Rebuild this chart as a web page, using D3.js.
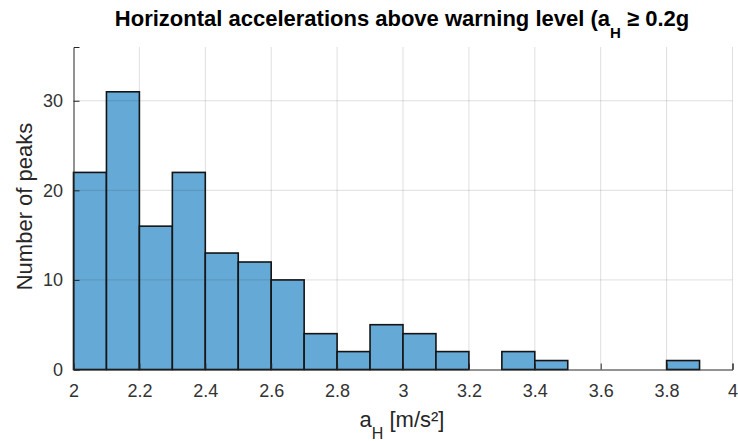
<!DOCTYPE html>
<html>
<head>
<meta charset="utf-8">
<script src="https://cdn.jsdelivr.net/npm/d3@7"></script>
<style>
  body { margin: 0; background: #fff; }
  svg { display: block; font-family: "Liberation Sans", Arial, sans-serif; }
</style>
</head>
<body>
<svg id="chart" width="738" height="441"></svg>
<script>
// histogram bins, width 0.1 m/s², starting at 2.0
const binEdges = [2.0, 2.1, 2.2, 2.3, 2.4, 2.5, 2.6, 2.7, 2.8, 2.9, 3.0,
  3.1, 3.2, 3.3, 3.4, 3.5, 3.6, 3.7, 3.8, 3.9];
const counts = [22, 31, 16, 22, 13, 12, 10, 4, 2, 5, 4, 2, 0, 2, 1, 0, 0, 0, 1];
const xTicks = [2, 2.2, 2.4, 2.6, 2.8, 3, 3.2, 3.4, 3.6, 3.8, 4];
const yTicks = [0, 10, 20, 30];

const svg = d3.select('#chart');
const margin = {left: 73.5, right: 5.5, top: 47, bottom: 71.5};
const W = 738, H = 441;

const x = d3.scaleLinear().domain([2, 4]).range([margin.left, W - margin.right]);
const y = d3.scaleLinear().domain([0, 36]).range([H - margin.bottom, margin.top]);

const textColor = '#262626';

// bars
svg.append('g').selectAll('rect')
  .data(counts)
  .join('rect')
  .attr('x', (d, i) => x(binEdges[i]))
  .attr('width', (d, i) => x(binEdges[i] + 0.1) - x(binEdges[i]))
  .attr('y', d => y(d))
  .attr('height', d => y(0) - y(d))
  .attr('fill', '#65a9d7')
  .attr('stroke', '#141414')
  .attr('stroke-width', 1.6);

// grid, drawn on top like MATLAB does
const grid = svg.append('g')
  .attr('stroke', '#262626')
  .attr('stroke-opacity', 0.15)
  .attr('stroke-width', 1);
grid.selectAll('line.v')
  .data(xTicks.slice(1))
  .join('line')
  .attr('class', 'v')
  .attr('x1', d => x(d)).attr('x2', d => x(d))
  .attr('y1', y(36)).attr('y2', y(0));
grid.selectAll('line.h')
  .data(yTicks.slice(1))
  .join('line')
  .attr('class', 'h')
  .attr('x1', x(2)).attr('x2', x(4))
  .attr('y1', d => y(d)).attr('y2', d => y(d));

// axes
const xAxis = d3.axisBottom(x)
  .tickValues(xTicks)
  .tickSize(-6)
  .tickPadding(15)
  .tickFormat(d3.format('~g'));
const yAxis = d3.axisLeft(y)
  .tickValues(yTicks)
  .tickSize(-6)
  .tickPadding(10.5);

const gx = svg.append('g')
  .attr('transform', `translate(0,${y(0)})`)
  .call(xAxis);
const gy = svg.append('g')
  .attr('transform', `translate(${x(2)},0)`)
  .call(yAxis);

[gx, gy].forEach(g => {
  g.select('.domain').attr('stroke', textColor).attr('stroke-width', 1);
  g.selectAll('.tick line').attr('stroke', textColor);
  g.selectAll('.tick text')
    .attr('fill', '#333')
    .attr('font-size', '18px')
    .attr('font-family', '"Liberation Sans", Arial, sans-serif');
});

// title (truncated in the original figure)
const title = svg.append('text')
  .attr('x', 402)
  .attr('y', 26)
  .attr('text-anchor', 'middle')
  .attr('font-size', '22px')
  .attr('font-weight', 'bold')
  .attr('fill', '#000');
title.append('tspan').text('Horizontal accelerations above warning level (a');
title.append('tspan').attr('font-size', '15px').attr('dy', 12).text('H');
title.append('tspan').attr('dy', -12).text(' \u2265 0.2g');

// x label
const xl = svg.append('text')
  .attr('x', 402)
  .attr('y', 427)
  .attr('text-anchor', 'middle')
  .attr('font-size', '22px')
  .attr('fill', textColor);
xl.append('tspan').text('a');
xl.append('tspan').attr('font-size', '16px').attr('dy', 12).text('H');
xl.append('tspan').attr('dy', -12).text(' [m/s\u00b2]');

// y label
svg.append('text')
  .attr('transform', `translate(31.5,206.5) rotate(-90)`)
  .attr('text-anchor', 'middle')
  .attr('font-size', '22px')
  .attr('fill', textColor)
  .text('Number of peaks');
</script>
</body>
</html>
